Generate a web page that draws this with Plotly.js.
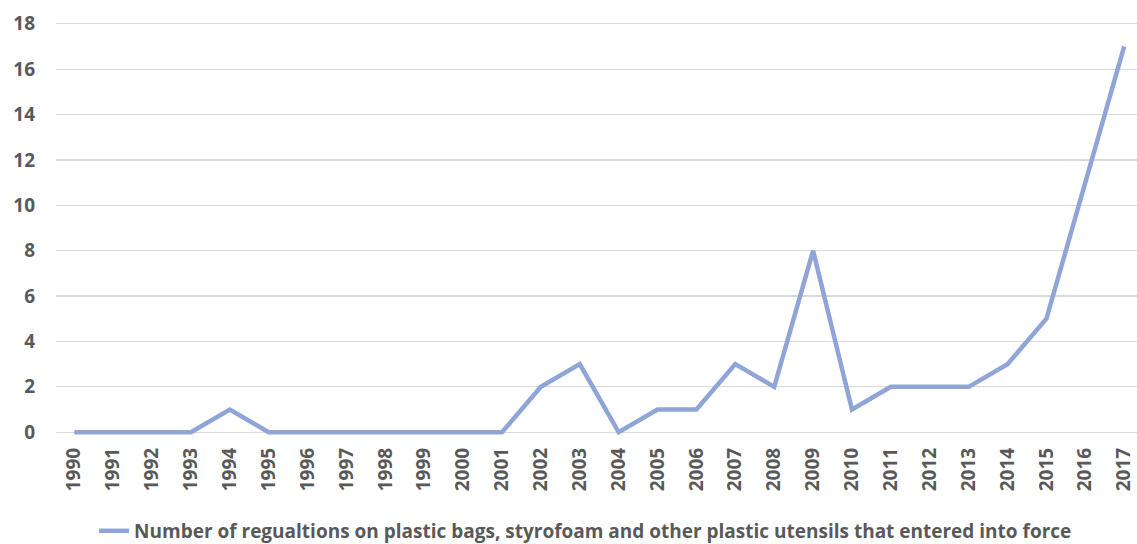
<!DOCTYPE html>
<html>
<head>
<meta charset="utf-8">
<script src="https://cdn.plot.ly/plotly-3.0.1.min.js"></script>
<style>html,body{margin:0;padding:0;background:#fff;}#chart{width:1137px;height:544px;}</style>
</head>
<body>
<div id="chart"></div>
<script>
const years = ["1990","1991","1992","1993","1994","1995","1996","1997","1998","1999","2000","2001","2002","2003","2004","2005","2006","2007","2008","2009","2010","2011","2012","2013","2014","2015","2016","2017"];
const regulations = [0,0,0,0,1,0,0,0,0,0,0,0,2,3,0,1,1,3,2,8,1,2,2,2,3,5,11,17];
const seriesName = "Number of regualtions on plastic bags, styrofoam and other plastic utensils that entered into force";
const yTicks = [0,2,4,6,8,10,12,14,16,18];

const fontFam = "'Open Sans', 'Noto Sans', sans-serif";
const trace = {
  x: years, y: regulations, type: 'scatter', mode: 'lines', name: seriesName,
  line: {color: '#8FA5D7', width: 4.5, shape: 'linear'}
};
const layout = {
  width: 1137, height: 544,
  margin: {l: 56, r: 0, t: 17, b: 105},
  paper_bgcolor: '#fff', plot_bgcolor: '#fff',
  showlegend: true,
  font: {family: fontFam, color: '#595959'},
  xaxis: {
    type: 'category', range: [-0.47, 27.33], tickangle: -90,
    showgrid: false, zeroline: false, showline: false, ticks: '',
    ticklabelstandoff: 4,
    tickfont: {size: 19, family: fontFam, color: '#595959', weight: 'bold'},
    tickvals: years, ticktext: years
  },
  yaxis: {
    range: [-0.3, 18.3], tickvals: yTicks, ticktext: yTicks.map(String),
    showgrid: true, gridcolor: '#D9D9D9', gridwidth: 1.3, zeroline: false, showline: false, ticks: '',
    ticklabelstandoff: 20,
    tickfont: {size: 19, family: fontFam, color: '#595959', weight: 'bold'}
  },
  legend: {
    orientation: 'h', xref: 'container', yref: 'container', x: 0.515, xanchor: 'center', y: 0.024, yanchor: 'middle',
    font: {size: 19, family: fontFam, color: '#595959', weight: 'bold'}, bgcolor: 'rgba(0,0,0,0)'
  }
};
Plotly.newPlot('chart', [trace], layout, {displayModeBar: false, staticPlot: true});
</script>
</body>
</html>
